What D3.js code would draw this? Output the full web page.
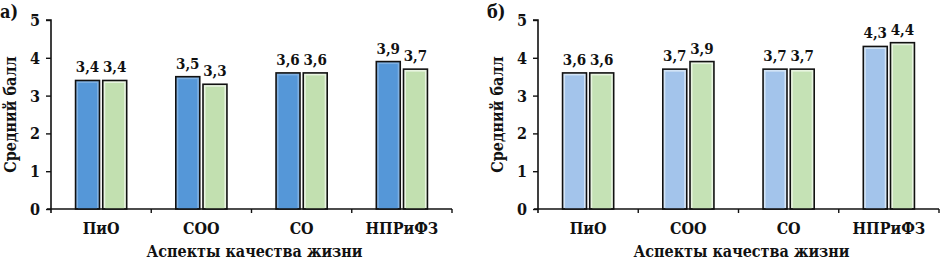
<!DOCTYPE html>
<html>
<head>
<meta charset="utf-8">
<script src="https://cdn.jsdelivr.net/npm/d3@7"></script>
<style>
  body { margin: 0; background: #fff; }
  svg text { font-stretch: condensed; }
</style>
</head>
<body>
<svg class="chart" width="940" height="261"></svg>
<script>
const categories = ["ПиО", "СОО", "СО", "НПРиФЗ"];
const yTicks = [0, 1, 2, 3, 4, 5];

// panel а)
const a_first = [3.4, 3.5, 3.6, 3.9];
const a_second = [3.4, 3.3, 3.6, 3.7];
// panel б)
const b_first = [3.6, 3.7, 3.7, 4.3];
const b_second = [3.6, 3.9, 3.7, 4.4];

const FONT = "'DejaVu Serif Condensed', 'DejaVu Serif', serif";

const panels = [
  { tag: "а)", left: 51, right: 452, first: a_first, second: a_second, c1: "#5597d8", c1edge: "#7fb0e2", c2: "#c2e0b0", c2edge: "#e8f4e0" },
  { tag: "б)", left: 538, right: 939, first: b_first, second: b_second, c1: "#a3c4eb", c1edge: "#d3e4f6", c2: "#c5e2b5", c2edge: "#e8f4e0" }
];

const svg = d3.select(".chart")
  .attr("font-family", FONT)
  .attr("font-weight", "bold");
const y = d3.scaleLinear().domain([0, 5]).range([209, 20]);

panels.forEach((p) => {
  const g = svg.append("g");

  const x0 = d3.scaleBand()
    .domain(categories)
    .range([p.left, p.right])
    .paddingInner(0.49)
    .paddingOuter(0.245);

  const x1 = d3.scaleBand()
    .domain([0, 1])
    .range([0, x0.bandwidth()])
    .paddingInner(0.12);

  // bars
  const rows = categories.map((c, i) => ({ cat: c, vals: [p.first[i], p.second[i]] }));
  const grp = g.selectAll(".grp").data(rows).join("g")
    .attr("transform", (d) => `translate(${x0(d.cat)},0)`);

  grp.selectAll("rect.bar").data((d) => d.vals).join("rect")
    .attr("class", "bar")
    .attr("x", (d, i) => x1(i))
    .attr("y", (d) => y(d))
    .attr("width", x1.bandwidth())
    .attr("height", (d) => y(0) - y(d))
    .attr("fill", (d, i) => (i === 0 ? p.c1edge : p.c2edge))
    .attr("stroke", "#111")
    .attr("stroke-width", 1.6);

  // inner colour (lighter rim around it, like the picture)
  grp.selectAll("rect.inner").data((d) => d.vals).join("rect")
    .attr("class", "inner")
    .attr("x", (d, i) => x1(i) + 2.5)
    .attr("y", (d) => y(d) + 2.5)
    .attr("width", x1.bandwidth() - 5)
    .attr("height", (d) => y(0) - y(d) - 2.5)
    .attr("fill", (d, i) => (i === 0 ? p.c1 : p.c2));

  // value labels
  grp.selectAll("text.val").data((d) => d.vals).join("text")
    .attr("class", "val")
    .attr("x", (d, i) => x1(i) + x1.bandwidth() / 2)
    .attr("y", (d) => y(d) - 8)
    .attr("text-anchor", "middle")
    .attr("font-size", 15)
    .attr("fill", "#111")
    .text((d) => d3.format(".1f")(d).replace(".", ","));

  // y axis
  const yAxis = d3.axisLeft(y).tickValues(yTicks).tickSize(5).tickPadding(6).tickFormat(d3.format("d"));
  const ya = g.append("g").attr("transform", `translate(${p.left},0)`).call(yAxis)
    .attr("font-family", FONT).attr("font-size", 16);
  ya.select(".domain").attr("stroke", "#111").attr("stroke-width", 1.6).attr("d", `M-5,${y(5)}H0V${y(0) + 4}`);
  ya.selectAll(".tick line").attr("stroke", "#111").attr("stroke-width", 1.4);
  ya.selectAll(".tick text").attr("fill", "#111").attr("dy", "0.34em");

  // x axis: categories without tick marks, boundary ticks separately
  const xAxis = d3.axisBottom(x0).tickSize(0).tickPadding(14);
  const xa = g.append("g").attr("transform", `translate(0,${y(0)})`).call(xAxis)
    .attr("font-family", FONT).attr("font-size", 16);
  xa.select(".domain").attr("stroke", "#111").attr("stroke-width", 1.6).attr("d", `M${p.left - 4},0H${p.right}`);
  xa.selectAll(".tick text").attr("fill", "#111");

  const bounds = categories.map((c) => x0(c) + x0.bandwidth() / 2 + x0.step() / 2);
  xa.selectAll(".bound").data(bounds).join("line")
    .attr("class", "bound")
    .attr("x1", (d) => d).attr("x2", (d) => d)
    .attr("y1", 0).attr("y2", 4)
    .attr("stroke", "#111").attr("stroke-width", 1.4);

  // titles
  g.append("text")
    .attr("transform", `translate(${p.left - 35},${(y(0) + y(5)) / 2}) rotate(-90)`)
    .attr("text-anchor", "middle")
    .attr("font-size", 16)
    .attr("fill", "#111")
    .text("Средний балл");

  g.append("text")
    .attr("x", (p.left + p.right) / 2 + 3)
    .attr("y", 257)
    .attr("text-anchor", "middle")
    .attr("font-size", 16)
    .attr("fill", "#111")
    .text("Аспекты качества жизни");

  g.append("text")
    .attr("x", p.left - 51)
    .attr("y", 18)
    .attr("font-size", 18)
    .attr("fill", "#111")
    .text(p.tag);
});
</script>
</body>
</html>
